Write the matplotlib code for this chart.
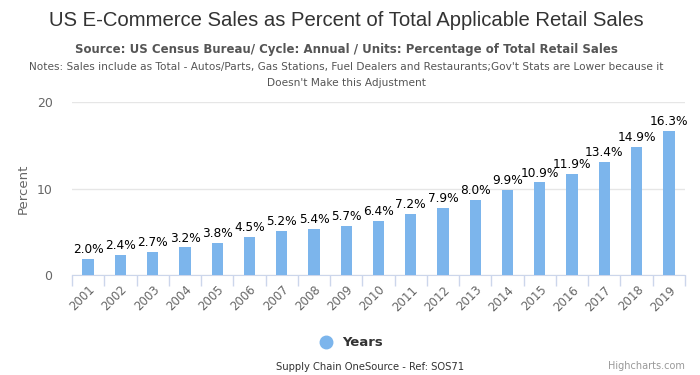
import matplotlib
matplotlib.use("Agg")
import matplotlib.pyplot as plt
from matplotlib.lines import Line2D

# --- DATA ---
years = [str(y) for y in range(2001, 2020)]
bar_values = [1.9, 2.3, 2.7, 3.2, 3.7, 4.4, 5.1, 5.3, 5.7, 6.3,
              7.1, 7.8, 8.7, 9.8, 10.7, 11.7, 13.1, 14.8, 16.7]
bar_labels = ["2.0%", "2.4%", "2.7%", "3.2%", "3.8%", "4.5%", "5.2%", "5.4%", "5.7%", "6.4%",
              "7.2%", "7.9%", "8.0%", "9.9%", "10.9%", "11.9%", "13.4%", "14.9%", "16.3%"]
y_ticks = [0, 10, 20]

BAR_COLOR = "#7cb5ec"
plt.rcParams['font.family'] = ['DejaVu Sans']

fig = plt.figure(figsize=(7, 3.75), dpi=100)
ax = fig.add_axes([72 / 700, 1 - 275 / 375, (685 - 72) / 700, (275 - 102) / 375])

x = list(range(len(years)))
ax.bar(x, bar_values, width=0.35, color=BAR_COLOR, zorder=3)
for xi, v, lab in zip(x, bar_values, bar_labels):
    ax.annotate(lab, (xi, v), xytext=(0, 2), textcoords="offset points",
                ha="center", va="bottom", fontsize=8.7, color="#000000", zorder=4)

ax.set_xlim(-0.5, len(years) - 0.5)
ax.set_ylim(0, 20)
ax.set_yticks(y_ticks)
ax.yaxis.grid(True, color="#e6e6e6", linewidth=1)
ax.set_axisbelow(True)
for s in ["top", "right", "left"]:
    ax.spines[s].set_visible(False)
ax.spines["bottom"].set_color("#ccd6eb")
ax.tick_params(axis="y", length=0, labelsize=9, labelcolor="#666666", pad=14)

# category boundary ticks
ax.set_xticks([i - 0.5 for i in range(len(years) + 1)], minor=True)
ax.set_xticks(x)
ax.set_xticklabels(years, rotation=45, ha="right", rotation_mode="anchor",
                   fontsize=8.5, color="#666666")
ax.tick_params(axis="x", which="major", length=0, pad=6)
ax.tick_params(axis="x", which="minor", length=8, color="#ccd6eb", width=1)
ax.set_ylabel("Percent", fontsize=9.5, color="#666666", labelpad=5)

# titles
fig.text(0.495, 1 - 20 / 375, "US E-Commerce Sales as Percent of Total Applicable Retail Sales",
         ha="center", va="center", fontsize=14.6, color="#333333", family="Liberation Sans")
fig.text(0.495, 1 - 50 / 375, "Source: US Census Bureau/ Cycle: Annual / Units: Percentage of Total Retail Sales",
         ha="center", va="center", fontsize=8.5, fontweight="bold", color="#555555")
fig.text(0.495, 1 - 67 / 375, "Notes: Sales include as Total - Autos/Parts, Gas Stations, Fuel Dealers and Restaurants;Gov't Stats are Lower because it",
         ha="center", va="center", fontsize=7.6, color="#555555")
fig.text(0.495, 1 - 83 / 375, "Doesn't Make this Adjustment",
         ha="center", va="center", fontsize=7.6, color="#555555")

# legend
fig.legend(handles=[Line2D([], [], marker="o", linestyle="", markersize=9,
                           markerfacecolor=BAR_COLOR, markeredgecolor=BAR_COLOR)],
           labels=["Years"], loc="center", bbox_to_anchor=(348 / 700, 1 - 343 / 375),
           frameon=False, prop={"weight": "bold", "size": 9.5}, handletextpad=0.2,
           labelcolor="#333333")

# credits
fig.text(370 / 700, 1 - 367 / 375, "Supply Chain OneSource - Ref: SOS71",
         ha="center", va="center", fontsize=7.2, color="#333333")
fig.text(685 / 700, 1 - 366 / 375, "Highcharts.com",
         ha="right", va="center", fontsize=7, color="#999999")

fig.savefig("out.png", dpi=100)
